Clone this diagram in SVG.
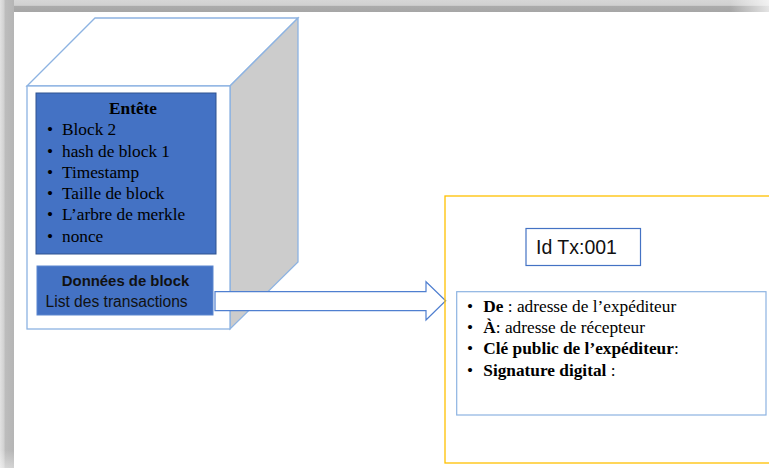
<svg xmlns="http://www.w3.org/2000/svg" width="769" height="468" viewBox="0 0 769 468">
<defs>
<linearGradient id="gTop" x1="0" y1="0" x2="0" y2="1">
<stop offset="0" stop-color="#d6d6d6"/><stop offset="0.45" stop-color="#d0d0d0"/><stop offset="0.5" stop-color="#ababab"/><stop offset="1" stop-color="#a6a6a6"/>
</linearGradient>
<linearGradient id="gLeft" x1="0" y1="0" x2="1" y2="0">
<stop offset="0" stop-color="#e2e2e2"/><stop offset="0.3" stop-color="#d0d0d0"/><stop offset="0.35" stop-color="#bdbdbd"/><stop offset="1" stop-color="#b5b5b5"/>
</linearGradient>
<linearGradient id="gRight" x1="0" y1="0" x2="1" y2="0">
<stop offset="0" stop-color="#ffffff" stop-opacity="0"/><stop offset="1" stop-color="#ffffff" stop-opacity="0.7"/>
</linearGradient>
<linearGradient id="gBot" x1="0" y1="0" x2="0" y2="1">
<stop offset="0" stop-color="#ffffff" stop-opacity="0"/><stop offset="1" stop-color="#ffffff" stop-opacity="0.4"/>
</linearGradient>
</defs>
<style>
.serif{font-family:"Liberation Serif","Times New Roman",serif;font-size:17.3px;fill:#000}
.b{font-weight:bold}
.sans{font-family:"Liberation Sans",Arial,sans-serif;fill:#111}
.cube{stroke:#8db3e2;stroke-width:1.3;stroke-linejoin:miter}
</style>
<rect width="769" height="468" fill="#ffffff"/>
<rect x="0" y="0" width="769" height="12" fill="url(#gTop)"/>
<rect x="0" y="0" width="14" height="468" fill="url(#gLeft)"/>
<rect x="730" y="0" width="39" height="12" fill="url(#gRight)"/>
<rect x="0" y="450" width="14" height="18" fill="url(#gBot)"/>

<g id="block">
<polygon class="cube" points="27,86 95,18 298,18 230,86" fill="#ffffff"/>
<polygon class="cube" points="230,86 298,18 298,262 230,329" fill="#cccccc"/>
<rect class="cube" x="27" y="86" width="203" height="243" fill="#ffffff"/>
</g>

<g id="entete">
<rect x="36" y="93" width="180" height="161" fill="#4472c4" stroke="#2f528f" stroke-width="1"/>
<text class="serif b" x="133" y="114" text-anchor="middle">Entête</text>
<g class="serif">
<text x="47" y="135">•</text><text x="62" y="135">Block 2</text>
<text x="47" y="156.5">•</text><text x="62" y="156.5">hash de block 1</text>
<text x="47" y="177.8">•</text><text x="62" y="177.8">Timestamp</text>
<text x="47" y="199">•</text><text x="62" y="199">Taille de block</text>
<text x="47" y="220.3">•</text><text x="62" y="220.3">L’arbre de merkle</text>
<text x="47" y="241.6">•</text><text x="62" y="241.6">nonce</text>
</g>
</g>

<g id="donnees">
<rect x="37" y="266" width="176" height="49" fill="#4472c4" stroke="#5b86cf" stroke-width="1"/>
<text class="sans" x="125.5" y="286" text-anchor="middle" font-size="14.9" font-weight="bold">Données de block</text>
<text class="sans" x="45.5" y="307" font-size="15.6">List des transactions</text>
</g>

<g id="connectors">
<polygon points="215,291.7 426,291.7 426,281.7 445.7,300.7 426,320 426,310.7 215,310.7" fill="#ffffff" stroke="#4f7fd0" stroke-width="1.2" stroke-linejoin="miter"/>
</g>

<g id="transaction">
<rect x="445" y="196" width="330" height="267" fill="none" stroke="#ffc000" stroke-width="1.3"/>
</g>

<g id="idtx">
<rect x="526" y="228.5" width="114.5" height="37" fill="#ffffff" stroke="#4472c4" stroke-width="1.2"/>
<text class="sans" x="536" y="254" font-size="19.5">Id Tx:001</text>
</g>

<g id="details">
<rect x="456.7" y="291.7" width="309.3" height="123.3" fill="#ffffff" stroke="#8db3e2" stroke-width="1.2"/>
<g class="serif">
<text x="467" y="311.7">•</text><text x="483.3" y="311.7"><tspan class="b">De</tspan> : adresse de l’expéditeur</text>
<text x="467" y="333">•</text><text x="483.3" y="333"><tspan class="b">À</tspan>: adresse de récepteur</text>
<text x="467" y="354.3">•</text><text x="483.3" y="354.3"><tspan class="b">Clé public de l’expéditeur</tspan>:</text>
<text x="467" y="375.6">•</text><text x="483.3" y="375.6"><tspan class="b">Signature digital</tspan> :</text>
</g>
</g>
</svg>
